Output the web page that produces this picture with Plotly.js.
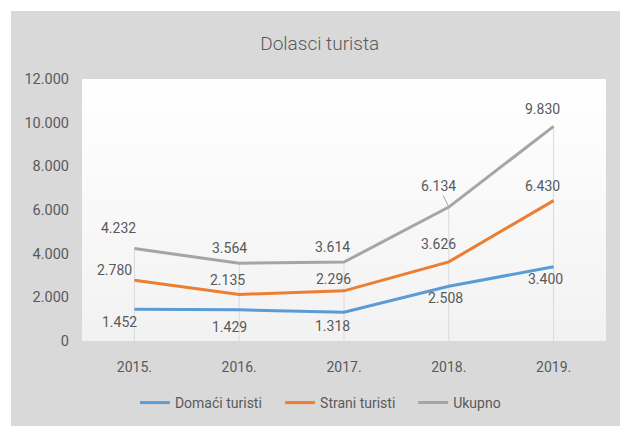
<!DOCTYPE html>
<html>
<head>
<meta charset="utf-8">
<script src="https://cdn.plot.ly/plotly-3.0.1.min.js"></script>
<style>
  html, body { margin: 0; padding: 0; background: #ffffff; }
  #chart { position: absolute; left: 11px; top: 11px; width: 609px; height: 415px; }
</style>
</head>
<body>
<div id="chart"></div>
<script>
// ---- data ----
const categories = ['2015.', '2016.', '2017.', '2018.', '2019.'];
const domaci = [1452, 1429, 1318, 2508, 3400];
const strani = [2780, 2135, 2296, 3626, 6430];
const ukupno = [4232, 3564, 3614, 6134, 9830];
const seriesNames = ['Domaći turisti', 'Strani turisti', 'Ukupno'];
const yTickVals = [0, 2000, 4000, 6000, 8000, 10000, 12000];

// ---- styles ----
const colors = ['#5b9bd5', '#ed7d31', '#a5a5a5'];
const textColor = '#595959';
const font = 'Roboto, "Noto Sans", Arial, sans-serif';
// label offsets in pixels [dx, dy] (dy positive = down)
const labelOffsets = [
  [[-15, 13], [-10, 17], [-12, 14], [-3, 12], [-8, 12]],
  [[-20, -10], [-12, -14], [-11, -12], [-10, -18], [-11, -15]],
  [[-16, -21], [-10, -15], [-12, -15], [-10, -21], [-11, -17]]
];
// legend entry left positions (paper fraction)
const legendX = [0.101, 0.378, 0.632];
const legendIds = ['legend', 'legend2', 'legend3'];

function fmt(v) {
  return String(v).replace(/\B(?=(\d{3})+(?!\d))/g, '.');
}

const seriesValues = [domaci, strani, ukupno];

// drop lines from axis to highest point
const dropX = [], dropY = [];
categories.forEach((c, i) => {
  const top = Math.max(domaci[i], strani[i], ukupno[i]);
  dropX.push(c, c, null);
  dropY.push(0, top, null);
});

const traces = [{
  x: dropX, y: dropY, type: 'scatter', mode: 'lines',
  line: { color: '#d9d9d9', width: 1 },
  showlegend: false, hoverinfo: 'skip'
}];
seriesValues.forEach((vals, s) => {
  traces.push({
    x: categories, y: vals, name: seriesNames[s], type: 'scatter', mode: 'lines',
    line: { color: colors[s], width: 3 }, legend: legendIds[s]
  });
});

const annotations = [];
seriesValues.forEach((vals, s) => {
  vals.forEach((v, i) => {
    const [dx, dy] = labelOffsets[s][i];
    const leader = (s === 2 && i === 3);
    // x given as category index (category names look numeric)
    const base = {
      x: categories.indexOf(categories[i]), y: v, xref: 'x', yref: 'y', text: fmt(v),
      font: { family: font, size: 14, color: textColor }
    };
    if (leader) {
      annotations.push(Object.assign(base, {
        showarrow: true, ax: dx, ay: dy, arrowhead: 0, arrowwidth: 1,
        arrowcolor: '#a6a6a6', standoff: 1
      }));
    } else {
      annotations.push(Object.assign(base, {
        showarrow: false, xshift: dx, yshift: -dy
      }));
    }
  });
});

const svg = "<svg xmlns='http://www.w3.org/2000/svg' width='100' height='100' preserveAspectRatio='none'>" +
  "<defs><linearGradient id='g' x1='0' y1='0' x2='0' y2='1'>" +
  "<stop offset='0' stop-color='#ffffff'/><stop offset='1' stop-color='#f2f2f2'/>" +
  "</linearGradient></defs><rect width='100' height='100' fill='url(#g)'/></svg>";

const layout = {
  width: 609, height: 415,
  margin: { l: 71, r: 14, t: 68, b: 85 },
  paper_bgcolor: '#d9d9d9',
  plot_bgcolor: 'rgba(0,0,0,0)',
  separators: ',.',
  font: { family: font, size: 14, color: textColor },
  title: {
    text: 'Dolasci turista', x: 0.507, xanchor: 'center', xref: 'container',
    y: 1 - 32 / 415, yanchor: 'middle', yref: 'container',
    font: { family: font, size: 19, color: textColor, weight: 300 }
  },
  xaxis: {
    type: 'category', range: [-0.5, 4.5], showgrid: false, zeroline: false,
    showline: false, ticks: '', ticklabelstandoff: 16, automargin: false,
    tickfont: { family: font, size: 14, color: textColor }, fixedrange: true
  },
  yaxis: {
    range: [0, 12000], tickvals: yTickVals, tickformat: ',d', showgrid: false,
    zeroline: false, showline: false, ticks: '', ticklabelstandoff: 12, automargin: false,
    tickfont: { family: font, size: 14.5, color: textColor }, fixedrange: true
  },
  showlegend: true,
  images: [{
    source: 'data:image/svg+xml;base64,' + btoa(svg),
    xref: 'paper', yref: 'paper', x: 0, y: 1, sizex: 1, sizey: 1,
    sizing: 'stretch', layer: 'below'
  }],
  annotations: annotations
};
legendIds.forEach((id, s) => {
  layout[id] = {
    orientation: 'h', x: legendX[s], xanchor: 'left', xref: 'paper',
    y: 1 - 392 / 415, yanchor: 'middle', yref: 'container',
    bgcolor: 'rgba(0,0,0,0)', font: { family: font, size: 14, color: textColor }
  };
});

Plotly.newPlot('chart', traces, layout, { displayModeBar: false, staticPlot: true });
</script>
</body>
</html>
